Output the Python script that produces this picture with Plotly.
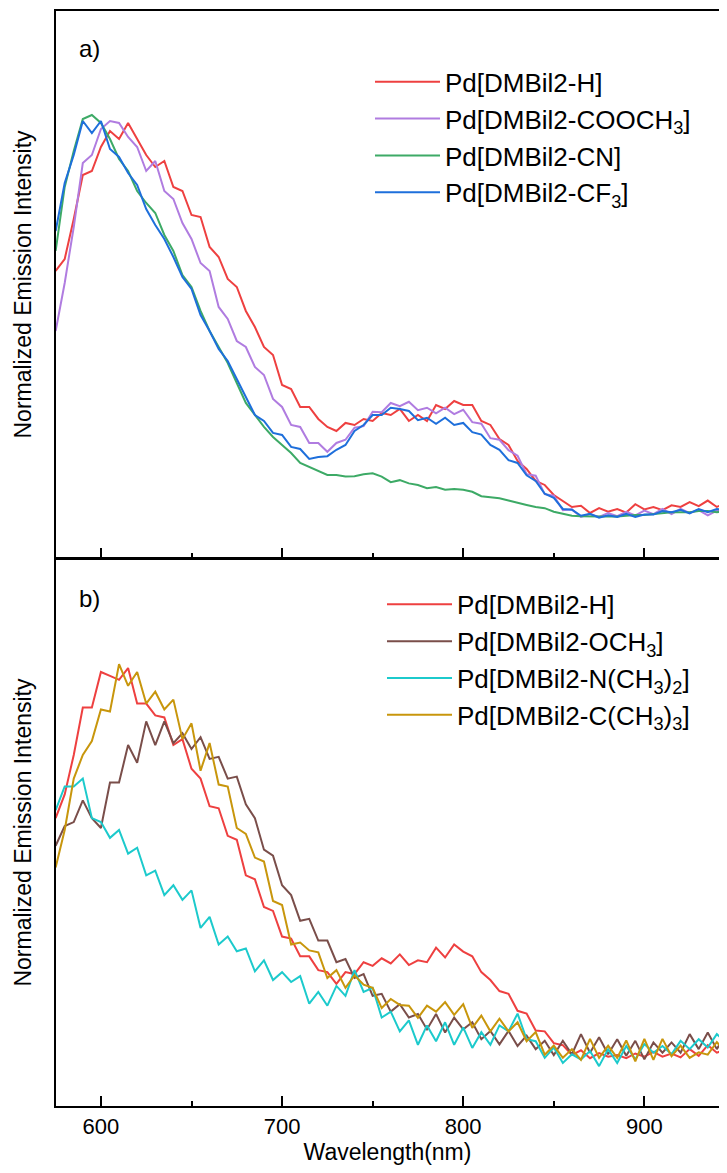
import plotly.graph_objects as go

wavelength = list(range(575, 950, 5))

# Panel a
a_H = [0.61,0.64,0.74,0.85,0.86,0.92,0.96,0.94,0.98,0.94,0.90,0.87,0.885,0.82,0.81,0.75,0.745,0.67,0.645,0.59,
       0.57,0.51,0.47,0.42,0.40,0.325,0.315,0.27,0.27,0.24,0.22,0.21,0.23,0.225,0.24,0.235,0.255,0.25,0.265,0.235,
       0.25,0.235,0.275,0.265,0.285,0.275,0.275,0.235,0.225,0.19,0.175,0.135,0.115,0.085,0.075,0.05,0.035,0.02,0.023,0.005,
       0.017,0.008,0.015,0.006,0.027,0.014,0.02,0.012,0.024,0.02,0.032,0.022,0.036,0.02,0.03]
a_COOCH3 = [0.46,0.58,0.72,0.88,0.90,0.965,0.985,0.98,0.945,0.92,0.86,0.885,0.81,0.79,0.73,0.69,0.63,0.61,0.52,0.49,
            0.435,0.42,0.37,0.35,0.29,0.27,0.225,0.22,0.18,0.18,0.158,0.18,0.188,0.218,0.222,0.258,0.257,0.28,0.272,0.283,
            0.262,0.268,0.254,0.268,0.252,0.263,0.232,0.228,0.192,0.188,0.162,0.148,0.102,0.098,0.052,0.048,0.012,0.014,-0.005,0.002,
            -0.005,0.005,-0.003,0.008,-0.001,0.011,0.002,0.015,0.002,0.015,0.005,0.012,-0.001,0.011,0.005]
a_CN = [0.66,0.82,0.91,0.99,1.0,0.98,0.94,0.89,0.86,0.81,0.78,0.755,0.70,0.66,0.60,0.57,0.51,0.46,0.42,0.38,
        0.33,0.28,0.25,0.22,0.195,0.175,0.155,0.13,0.12,0.112,0.10,0.10,0.096,0.097,0.102,0.104,0.096,0.082,0.087,0.079,
        0.075,0.067,0.07,0.063,0.065,0.063,0.058,0.047,0.045,0.042,0.036,0.03,0.025,0.02,0.017,0.008,0.003,-0.002,-0.003,-0.004,
        -0.004,-0.004,-0.004,-0.002,0.0,0.0,0.002,0.005,0.007,0.007,0.007,0.01,0.01,0.007,0.01]
a_CF3 = [0.71,0.83,0.90,0.985,0.955,0.985,0.915,0.895,0.855,0.825,0.765,0.725,0.69,0.645,0.595,0.565,0.50,0.46,0.415,0.385,
         0.34,0.295,0.25,0.235,0.205,0.20,0.17,0.165,0.14,0.145,0.147,0.163,0.175,0.21,0.225,0.25,0.25,0.268,0.265,0.26,
         0.237,0.243,0.228,0.243,0.225,0.23,0.207,0.201,0.175,0.163,0.137,0.13,0.099,0.085,0.053,0.043,0.015,0.013,-0.002,0.003,
         -0.007,-0.001,-0.005,0.003,-0.005,0.001,0.001,0.01,0.007,0.013,0.004,0.015,0.007,0.015,0.012]

# Panel b
b_H = [0.60,0.66,0.76,0.88,0.88,0.97,0.96,0.95,0.98,0.89,0.89,0.86,0.855,0.785,0.80,0.725,0.70,0.63,0.625,0.555,
       0.545,0.455,0.445,0.375,0.365,0.30,0.295,0.25,0.25,0.215,0.21,0.18,0.21,0.205,0.235,0.226,0.245,0.232,0.255,0.228,
       0.24,0.235,0.272,0.247,0.28,0.262,0.25,0.21,0.19,0.162,0.155,0.112,0.105,0.062,0.06,0.03,0.025,0.0,0.012,-0.008,
       0.005,-0.004,0.0,-0.008,0.004,-0.004,0.008,-0.004,0.004,-0.006,0.015,-0.002,0.025,0.006,0.014]
b_OCH3 = [0.53,0.58,0.59,0.645,0.60,0.575,0.69,0.69,0.785,0.74,0.845,0.785,0.845,0.79,0.815,0.775,0.805,0.75,0.755,0.70,
          0.705,0.635,0.60,0.52,0.505,0.43,0.405,0.34,0.345,0.29,0.29,0.235,0.243,0.195,0.205,0.15,0.155,0.11,0.129,0.095,
          0.104,0.065,0.104,0.057,0.095,0.065,0.083,0.04,0.061,0.027,0.061,0.023,0.049,0.015,0.036,0.0,0.036,0.002,0.053,0.006,
          0.045,0.002,0.04,-0.002,0.036,-0.011,0.032,0.006,0.032,0.006,0.053,0.015,0.057,0.015,0.053]
b_NMe2 = [0.62,0.68,0.68,0.70,0.60,0.59,0.55,0.57,0.51,0.525,0.455,0.467,0.405,0.43,0.393,0.417,0.322,0.35,0.28,0.30,
          0.263,0.27,0.212,0.24,0.19,0.21,0.185,0.20,0.13,0.16,0.125,0.175,0.15,0.215,0.16,0.17,0.095,0.11,0.06,0.088,
          0.026,0.075,0.035,0.083,0.026,0.07,0.018,0.058,0.026,0.075,0.06,0.105,0.04,0.035,-0.007,0.019,-0.02,0.002,-0.011,0.01,
          -0.028,0.015,-0.02,0.023,-0.011,0.028,0.006,0.023,0.002,0.036,0.015,0.04,0.019,0.053,0.031]
b_tBu = [0.475,0.57,0.70,0.76,0.795,0.875,0.87,0.99,0.935,0.97,0.89,0.92,0.875,0.90,0.80,0.84,0.72,0.79,0.685,0.68,
         0.575,0.56,0.50,0.49,0.39,0.38,0.28,0.285,0.265,0.26,0.195,0.215,0.17,0.202,0.178,0.17,0.119,0.142,0.127,0.125,
         0.094,0.125,0.11,0.134,0.102,0.129,0.069,0.10,0.06,0.092,0.06,0.083,0.035,0.058,0.001,0.024,-0.007,0.015,-0.012,0.041,
         -0.007,0.024,-0.007,0.037,-0.016,0.041,-0.012,0.041,-0.003,0.024,-0.007,0.007,0.001,0.033,0.005]

names_a = ["Pd[DMBil2-H]", "Pd[DMBil2-COOCH<sub>3</sub>]", "Pd[DMBil2-CN]", "Pd[DMBil2-CF<sub>3</sub>]"]
names_b = ["Pd[DMBil2-H]", "Pd[DMBil2-OCH<sub>3</sub>]", "Pd[DMBil2-N(CH<sub>3</sub>)<sub>2</sub>]",
           "Pd[DMBil2-C(CH<sub>3</sub>)<sub>3</sub>]"]
colors_a = ["#EE4040", "#B07CE0", "#3DAA66", "#1E6FDB"]
colors_b = ["#EE4040", "#7A4E4A", "#1CCACC", "#C8960C"]

fig = go.Figure()
for name, ys, c in zip(names_a, [a_H, a_COOCH3, a_CN, a_CF3], colors_a):
    fig.add_trace(go.Scatter(x=wavelength, y=ys, mode="lines", name=name,
                             line=dict(color=c, width=2), xaxis="x2", yaxis="y2", legend="legend"))
for name, ys, c in zip(names_b, [b_H, b_OCH3, b_NMe2, b_tBu], colors_b):
    fig.add_trace(go.Scatter(x=wavelength, y=ys, mode="lines", name=name,
                             line=dict(color=c, width=2), xaxis="x", yaxis="y", legend="legend2"))

FONT = "Liberation Sans, Arial, sans-serif"
xcommon = dict(range=[575.2, 941.2], showline=True, linecolor="black", linewidth=2, mirror=True,
               ticks="inside", ticklen=10, tickwidth=2, tickcolor="black", dtick=100, tick0=600,
               minor=dict(ticks="inside", ticklen=5, tickwidth=2, tickcolor="black", dtick=50, tick0=550),
               showgrid=False, zeroline=False, automargin=False)
ycommon = dict(showline=True, linecolor="black", linewidth=2, showticklabels=False, ticks="",
               showgrid=False, zeroline=False, automargin=False,
               title=dict(text="Normalized Emission Intensity", font=dict(size=23, color="black"), standoff=16))

# page body has an 8px margin; the figure is sized so the page fits the 727x1173 window
fig.update_layout(
    width=711, height=1157,
    margin=dict(l=48, r=0, t=3, b=59),
    paper_bgcolor="white", plot_bgcolor="white",
    font=dict(family=FONT, color="black"),
    xaxis=dict(**xcommon, anchor="y",
               tickfont=dict(size=22, color="black"),
               title=dict(text="Wavelength(nm)", font=dict(size=23, color="black"), standoff=17)),
    yaxis=dict(**ycommon, domain=[0, 0.4995], range=[-0.129, 1.256], anchor="x"),
    xaxis2=dict(**xcommon, anchor="y2", showticklabels=False),
    yaxis2=dict(**ycommon, domain=[0.5005, 1], range=[-0.1075, 1.26], anchor="x2"),
    legend=dict(x=0.4736, y=0.9567, xanchor="left", yanchor="top", bgcolor="rgba(0,0,0,0)",
                font=dict(size=26, color="black"), itemwidth=65, tracegroupgap=0),
    legend2=dict(x=0.4917, y=0.4795, xanchor="left", yanchor="top", bgcolor="rgba(0,0,0,0)",
                 font=dict(size=26, color="black"), itemwidth=65, tracegroupgap=0),
    annotations=[
        dict(text="a)", x=0.031, y=0.9655, xref="paper", yref="paper", xanchor="left", yanchor="middle",
             showarrow=False, font=dict(size=24, color="black")),
        dict(text="b)", x=0.031, y=0.4632, xref="paper", yref="paper", xanchor="left", yanchor="middle",
             showarrow=False, font=dict(size=24, color="black")),
    ],
)

fig.write_html("out.html")
